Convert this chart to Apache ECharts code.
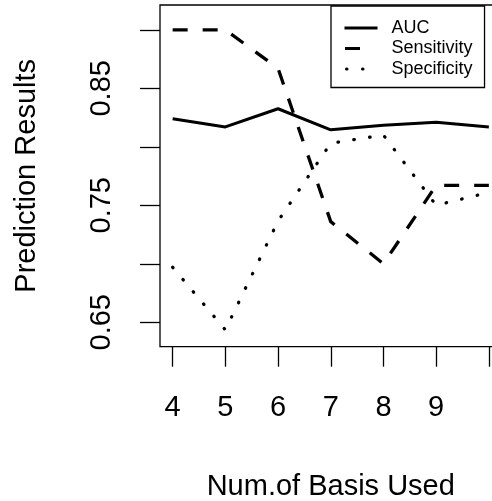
<!DOCTYPE html>
<html>
<head>
<meta charset="utf-8">
<script src="https://cdn.jsdelivr.net/npm/echarts@6.0.0/dist/echarts.min.js"></script>
<style>
  html, body { margin: 0; padding: 0; background: #fff; }
  #chart { width: 492px; height: 501px; }
</style>
</head>
<body>
<div id="chart"></div>
<script>
// Number of basis functions used
const nBasis = [4, 5, 6, 7, 8, 9, 10];

// Prediction results per number of basis functions
const auc         = [0.824, 0.817, 0.8325, 0.8145, 0.8185, 0.821, 0.817];
const sensitivity = [0.900, 0.900, 0.867, 0.736, 0.700, 0.767, 0.767];
const specificity = [0.697, 0.6435, 0.7365, 0.803, 0.810, 0.750, 0.761];

// Axis ticks and their labels
const xTickValues = [4, 5, 6, 7, 8, 9, 10];
const xLabelValues = [4, 5, 6, 7, 8, 9];
const yTickValues = [0.65, 0.70, 0.75, 0.80, 0.85, 0.90];
const yLabelValues = [0.65, 0.75, 0.85];

const seriesNames = ['AUC', 'Sensitivity', 'Specificity'];

const FONT = '"Liberation Sans", Arial, Helvetica, sans-serif';
const INK = '#000';

function pairs(xs, ys) {
  return xs.map((x, i) => [x, ys[i]]);
}

const chart = echarts.init(document.getElementById('chart'), null, { renderer: 'canvas' });

chart.setOption({
  animation: false,
  backgroundColor: '#fff',
  textStyle: { fontFamily: FONT, color: INK },
  // plot box runs past the right edge of the canvas
  grid: {
    left: 160, width: 341.5, top: 5, bottom: 154.3,
    outerBoundsMode: 'none',
    show: true, borderColor: INK, borderWidth: 1.3,
    backgroundColor: 'transparent', containLabel: false
  },
  legend: {
    orient: 'vertical',
    left: 331, top: 6,
    data: [
      { name: seriesNames[0] },
      { name: seriesNames[1], lineStyle: { type: [15, 30], dashOffset: -0.5 } },
      { name: seriesNames[2], lineStyle: { type: [0.5, 15.5, 0.5, 40], dashOffset: -2 } }
    ],
    itemWidth: 33, itemHeight: 14, itemGap: 2.5,
    padding: [13, 12, 9.5, 12],
    borderColor: INK, borderWidth: 1.3,
    backgroundColor: '#fff',
    lineStyle: { width: 3 },
    itemStyle: { color: 'rgba(0,0,0,0)', borderWidth: 0, borderColor: 'rgba(0,0,0,0)' },
    textStyle: { fontSize: 18, color: INK, fontFamily: FONT, padding: [0, 0, 0, 9] }
  },
  xAxis: {
    type: 'value',
    min: 3.76, max: 10.24,
    name: 'Num.of Basis Used',
    nameLocation: 'middle',
    nameGap: 126,
    nameTextStyle: { fontSize: 29, color: INK, fontFamily: FONT },
    axisLine: { show: false },
    axisTick: {
      show: true, inside: false, length: 20,
      customValues: xTickValues,
      lineStyle: { color: INK, width: 1.3 }
    },
    axisLabel: {
      show: true, margin: 47, fontSize: 29, color: INK, fontFamily: FONT,
      customValues: xLabelValues,
      formatter: v => String(v)
    },
    splitLine: { show: false }
  },
  yAxis: {
    type: 'value',
    min: 0.6291, max: 0.9212,
    name: 'Prediction Results',
    nameLocation: 'middle',
    nameGap: 119,
    nameTextStyle: { fontSize: 29, color: INK, fontFamily: FONT },
    axisLine: { show: false },
    axisTick: {
      show: true, inside: false, length: 20,
      customValues: yTickValues,
      lineStyle: { color: INK, width: 1.3 }
    },
    axisLabel: {
      show: true, rotate: 90, margin: 44, fontSize: 29, color: INK, fontFamily: FONT,
      customValues: yLabelValues,
      formatter: v => v.toFixed(2)
    },
    splitLine: { show: false }
  },
  series: [
    {
      name: 'AUC', type: 'line', data: pairs(nBasis, auc),
      symbol: 'none', clip: true,
      lineStyle: { color: INK, width: 3, type: 'solid', join: 'round' },
      itemStyle: { color: INK }
    },
    {
      name: 'Sensitivity', type: 'line', data: pairs(nBasis, sensitivity),
      symbol: 'none', clip: true,
      lineStyle: { color: INK, width: 3.3, type: [15, 15], cap: 'butt', join: 'round' },
      itemStyle: { color: INK }
    },
    {
      name: 'Specificity', type: 'line', data: pairs(nBasis, specificity),
      symbol: 'none', clip: true,
      lineStyle: { color: INK, width: 3.3, type: [0.5, 15.5], cap: 'round', join: 'round' },
      itemStyle: { color: INK }
    }
  ]
});
</script>
</body>
</html>
